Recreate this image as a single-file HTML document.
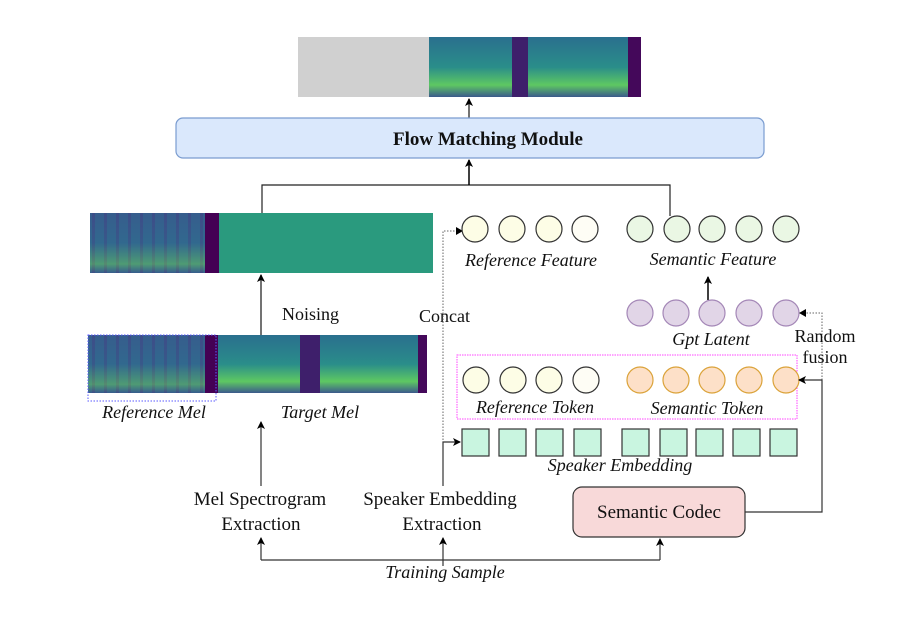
<!DOCTYPE html>
<html><head><meta charset="utf-8"><style>
body{margin:0;background:#fff}
svg{display:block}
text{font-family:"Liberation Serif",serif;fill:#111}
.i{font-style:italic}
</style></head><body>
<svg width="913" height="627" viewBox="0 0 913 627" xmlns="http://www.w3.org/2000/svg">
<defs>
<linearGradient id="sp" x1="0" y1="0" x2="0" y2="1">
<stop offset="0" stop-color="#2a6f8e"/><stop offset="0.5" stop-color="#2a8d8a"/><stop offset="0.8" stop-color="#5ec862"/><stop offset="1" stop-color="#3b5a8c"/>
</linearGradient>
<linearGradient id="rf" x1="0" y1="0" x2="0" y2="1">
<stop offset="0" stop-color="#3b528b"/><stop offset="0.5" stop-color="#31688e"/><stop offset="0.85" stop-color="#6ccd5a"/><stop offset="1" stop-color="#3b528b"/>
</linearGradient>
<pattern id="vs" width="12" height="200" patternUnits="userSpaceOnUse">
<rect width="12" height="200" fill="#31688e"/><rect x="8" width="3" height="200" fill="#46337e" opacity="0.6"/>
</pattern>
<marker id="a" markerWidth="8" markerHeight="8" refX="7" refY="4" orient="auto" markerUnits="userSpaceOnUse"><path d="M0,0 L8,4 L0,8 L2,4z" fill="#000"/></marker>
</defs>

<!-- top output -->
<rect x="298" y="37" width="131" height="60" fill="#d0d0d0"/>
<rect x="429" y="37" width="212" height="60" fill="url(#sp)"/>
<rect x="512" y="37" width="16" height="60" fill="#3e1f6b"/>
<rect x="628" y="37" width="13" height="60" fill="#44085a"/>
<line x1="469" y1="118" x2="469" y2="99" stroke="#444" stroke-width="1.5" marker-end="url(#a)"/>

<rect x="176" y="118" width="588" height="40" rx="7" fill="#dae8fc" stroke="#7a9cd0" stroke-width="1.2"/>
<text x="488" y="145" text-anchor="middle" font-weight="bold" font-size="19">Flow Matching Module</text>

<path d="M262 213 V185 H670 V216" fill="none" stroke="#222" stroke-width="1.2"/>
<line x1="469" y1="185" x2="469" y2="160" stroke="#000" stroke-width="1.5" marker-end="url(#a)"/>

<!-- middle spectrogram -->
<rect x="90" y="213" width="129" height="60" fill="url(#rf)"/>
<rect x="90" y="213" width="129" height="60" fill="url(#vs)" opacity="0.5"/>
<rect x="205" y="213" width="14" height="60" fill="#440154"/>
<rect x="219" y="213" width="214" height="60" fill="#2a9a7e"/>
<line x1="261" y1="335" x2="261" y2="275" stroke="#444" stroke-width="1.5" marker-end="url(#a)"/>
<text x="282" y="320" font-size="18">Noising</text>
<text x="419" y="322" font-size="18">Concat</text>

<!-- bottom spectrogram -->
<rect x="88" y="335" width="130" height="58" fill="url(#rf)"/>
<rect x="88" y="335" width="130" height="58" fill="url(#vs)" opacity="0.5"/>
<rect x="205" y="335" width="13" height="58" fill="#440154"/>
<rect x="218" y="335" width="209" height="58" fill="url(#sp)"/>
<rect x="300" y="335" width="20" height="58" fill="#3e1f6b"/>
<rect x="418" y="335" width="9" height="58" fill="#44085a"/>
<rect x="88" y="335" width="128" height="66" fill="none" stroke="#5a5aff" stroke-width="1" stroke-dasharray="1.5 1.5"/>
<text x="154" y="418" text-anchor="middle" class="i" font-size="18">Reference Mel</text>
<text x="320" y="418" text-anchor="middle" class="i" font-size="18">Target Mel</text>

<!-- dotted concat line -->
<path d="M443 440 V231 H460" fill="none" stroke="#666" stroke-width="1" stroke-dasharray="1.5 1.5"/>
<path d="M456 227 L463 231 L456 235z" fill="#000"/>

<!-- reference feature -->
<g stroke="#333" stroke-width="1.2">
<circle cx="475" cy="229" r="13" fill="#fdfde6"/><circle cx="512" cy="229" r="13" fill="#fdfde6"/><circle cx="549" cy="229" r="13" fill="#fdfde6"/><circle cx="585" cy="229" r="13" fill="#fefdf5"/>
<circle cx="640" cy="229" r="13" fill="#eaf7e4"/><circle cx="677" cy="229" r="13" fill="#eaf7e4"/><circle cx="712" cy="229" r="13" fill="#eaf7e4"/><circle cx="749" cy="229" r="13" fill="#eaf7e4"/><circle cx="786" cy="229" r="13" fill="#eaf7e4"/>
</g>
<text x="531" y="266" text-anchor="middle" class="i" font-size="18">Reference Feature</text>
<text x="713" y="265" text-anchor="middle" class="i" font-size="18">Semantic Feature</text>
<line x1="708" y1="300" x2="708" y2="277" stroke="#000" stroke-width="1.5" marker-end="url(#a)"/>

<!-- gpt latent -->
<g stroke="#a487b7" stroke-width="1.2" fill="#e1d5e7">
<circle cx="640" cy="313" r="13"/><circle cx="676" cy="313" r="13"/><circle cx="712" cy="313" r="13"/><circle cx="749" cy="313" r="13"/><circle cx="786" cy="313" r="13"/>
</g>
<text x="711" y="345" text-anchor="middle" class="i" font-size="18">Gpt Latent</text>
<path d="M822 380 V313 H801" fill="none" stroke="#666" stroke-width="1" stroke-dasharray="1.5 1.5"/>
<path d="M806 309 L799 313 L806 317z" fill="#000"/>
<text x="825" y="342" text-anchor="middle" font-size="18">Random</text>
<text x="825" y="363" text-anchor="middle" font-size="18">fusion</text>

<!-- tokens -->
<rect x="457" y="355" width="340" height="64" fill="none" stroke="#ff44ff" stroke-width="1" stroke-dasharray="1.5 1"/>
<g stroke="#333" stroke-width="1.2">
<circle cx="476" cy="380" r="13" fill="#fdfde6"/><circle cx="513" cy="380" r="13" fill="#fdfde6"/><circle cx="549" cy="380" r="13" fill="#fdfde6"/><circle cx="586" cy="380" r="13" fill="#fefdf5"/>
</g>
<g stroke="#dba33a" stroke-width="1.2" fill="#fde0c8">
<circle cx="640" cy="380" r="13"/><circle cx="676" cy="380" r="13"/><circle cx="712" cy="380" r="13"/><circle cx="749" cy="380" r="13"/><circle cx="786" cy="380" r="13"/>
</g>
<text x="535" y="413" text-anchor="middle" class="i" font-size="18">Reference Token</text>
<text x="707" y="414" text-anchor="middle" class="i" font-size="18">Semantic Token</text>

<!-- speaker embedding -->
<g stroke="#333" stroke-width="1.2" fill="#c9f5e0">
<rect x="462" y="429" width="27" height="27"/><rect x="499" y="429" width="27" height="27"/><rect x="536" y="429" width="27" height="27"/><rect x="574" y="429" width="27" height="27"/>
<rect x="622" y="429" width="27" height="27"/><rect x="660" y="429" width="27" height="27"/><rect x="696" y="429" width="27" height="27"/><rect x="733" y="429" width="27" height="27"/><rect x="770" y="429" width="27" height="27"/>
</g>
<text x="620" y="471" text-anchor="middle" class="i" font-size="18">Speaker Embedding</text>

<!-- extraction -->
<text x="260" y="505" text-anchor="middle" font-size="19">Mel Spectrogram</text>
<text x="261" y="530" text-anchor="middle" font-size="19">Extraction</text>
<text x="440" y="505" text-anchor="middle" font-size="19">Speaker Embedding</text>
<text x="442" y="530" text-anchor="middle" font-size="19">Extraction</text>
<line x1="261" y1="486" x2="261" y2="422" stroke="#333" stroke-width="1.2" marker-end="url(#a)"/>
<path d="M443 486 V442 H460" fill="none" stroke="#333" stroke-width="1.2" marker-end="url(#a)"/>

<rect x="573" y="487" width="172" height="50" rx="9" fill="#f8d9d9" stroke="#333" stroke-width="1.2"/>
<text x="659" y="518" text-anchor="middle" font-size="19">Semantic Codec</text>
<path d="M745 512 H822 V380 H799" fill="none" stroke="#333" stroke-width="1.2" marker-end="url(#a)"/>

<path d="M261 560 H660" fill="none" stroke="#333" stroke-width="1.2"/>
<line x1="261" y1="560" x2="261" y2="538" stroke="#333" stroke-width="1.2" marker-end="url(#a)"/>
<line x1="443" y1="566" x2="443" y2="538" stroke="#333" stroke-width="1.2" marker-end="url(#a)"/>
<line x1="660" y1="560" x2="660" y2="539" stroke="#333" stroke-width="1.2" marker-end="url(#a)"/>
<text x="445" y="578" text-anchor="middle" class="i" font-size="18">Training Sample</text>
</svg>
</body></html>
